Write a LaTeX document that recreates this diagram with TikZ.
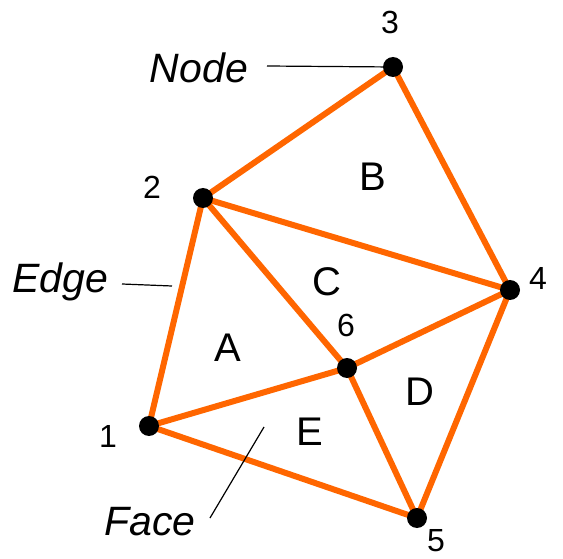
\documentclass[tikz,border=0pt]{standalone}
\usepackage{fontspec}
\setmainfont{Liberation Sans}
\usepackage{tikz}
\usetikzlibrary{backgrounds}

\definecolor{edgeorange}{RGB}{255,102,0}

\begin{document}
\begin{tikzpicture}[
    x=1pt, y=-1pt,
    vertex/.style={circle, fill=black, inner sep=0pt, minimum size=20pt},
    numlbl/.style={font=\fontsize{32}{34}\selectfont, inner sep=0pt},
    facelbl/.style={font=\fontsize{40}{42}\selectfont, inner sep=0pt},
    termlbl/.style={font=\fontsize{41}{43}\selectfont\itshape, inner sep=0pt},
    edgeline/.style={draw=edgeorange, line width=6pt},
    callout/.style={draw=black, line width=1.2pt}
]
\useasboundingbox (0,0) rectangle (563,559);

% Vertices
\node[vertex] (v1) at (149,426) {};
\node[vertex] (v2) at (203,198) {};
\node[vertex] (v3) at (393,67) {};
\node[vertex] (v4) at (510,290) {};
\node[vertex] (v5) at (417,518) {};
\node[vertex] (v6) at (347,368) {};

% Vertex numbers
\node[numlbl] (n1) at (108,436) {1};
\node[numlbl] (n2) at (152,187) {2};
\node[numlbl] (n3) at (390,22) {3};
\node[numlbl] (n4) at (538,278) {4};
\node[numlbl] (n5) at (436,541) {5};
\node[numlbl] (n6) at (346,325) {6};

% Faces
\node[facelbl] (fa) at (228,348) {A};
\node[facelbl] (fb) at (373,177) {B};
\node[facelbl] (fc) at (327,282) {C};
\node[facelbl] (fd) at (420,392) {D};
\node[facelbl] (fe) at (310,432) {E};

% Edges
\begin{scope}[on background layer]
    \draw[edgeline] (v1.center) -- (v2.center);
    \draw[edgeline] (v2.center) -- (v3.center);
    \draw[edgeline] (v3.center) -- (v4.center);
    \draw[edgeline] (v2.center) -- (v4.center);
    \draw[edgeline] (v2.center) -- (v6.center);
    \draw[edgeline] (v1.center) -- (v6.center);
    \draw[edgeline] (v6.center) -- (v4.center);
    \draw[edgeline] (v6.center) -- (v5.center);
    \draw[edgeline] (v1.center) -- (v5.center);
    \draw[edgeline] (v4.center) -- (v5.center);
\end{scope}

% Terms
\node[termlbl] (nodelbl) at (199,68) {Node};
\node[termlbl] (edgelbl) at (60,282) {Edge};
\node[termlbl] (facelbl) at (150,522) {Face};

\coordinate (nodestart) at (267,66);
\coordinate (edgestart) at (122,284);
\coordinate (edgetip) at (172,286);
\coordinate (facestart) at (210,518);
\coordinate (facetip) at (264,427);

\draw[callout] (nodestart) -- (v3.center);
\draw[callout] (edgestart) -- (edgetip);
\draw[callout] (facestart) -- (facetip);
\end{tikzpicture}
\end{document}
